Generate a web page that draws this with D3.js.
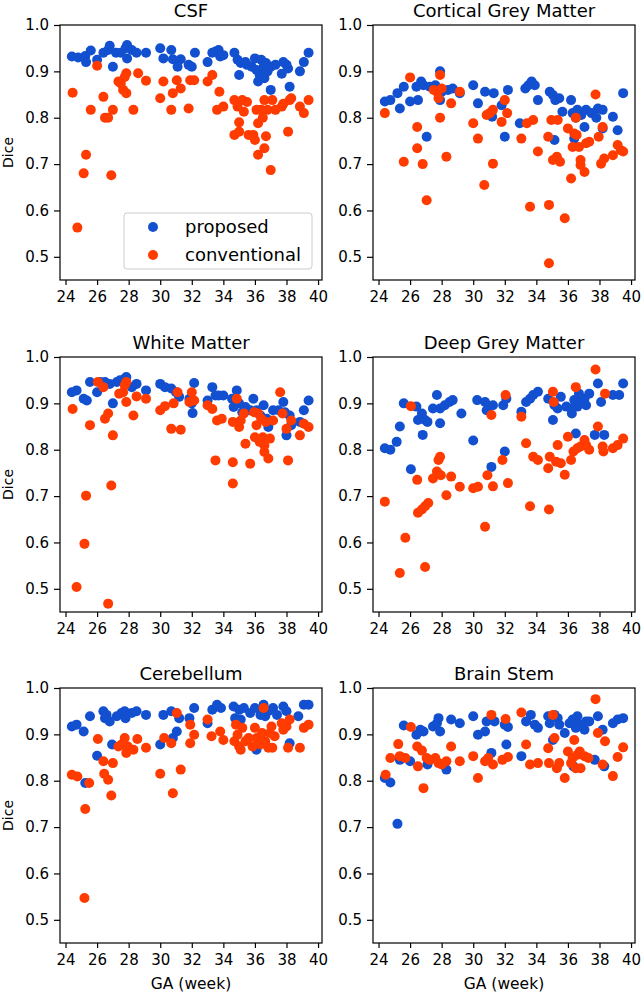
<!DOCTYPE html>
<html>
<head>
<meta charset="utf-8">
<script src="https://d3js.org/d3.v7.min.js"></script>
<style>
  body { margin: 0; background: #fff; }
  text { font-family: "DejaVu Sans", sans-serif; fill: #000; }
</style>
</head>
<body>
<script>

// tick values
var xTicks = [24, 26, 28, 30, 32, 34, 36, 38, 40];
var yTicks = [0.5, 0.6, 0.7, 0.8, 0.9, 1.0];
var seriesNames = ["proposed", "conventional"];
var titles = ["CSF", "Cortical Grey Matter", "White Matter", "Deep Grey Matter", "Cerebellum", "Brain Stem"];

// [GA week, Dice]
var csfProposed = [[24.4,0.932],[24.8,0.93],[25.25,0.933],[25.3,0.92],[25.6,0.945],[26.0,0.925],[26.4,0.94],[26.7,0.946],[26.8,0.955],[27.0,0.91],[27.2,0.94],[27.5,0.94],[27.8,0.95],[27.9,0.957],[27.9,0.928],[28.2,0.946],[28.5,0.94],[29.1,0.94],[30.0,0.95],[30.2,0.928],[30.7,0.946],[30.8,0.926],[31.1,0.91],[31.3,0.926],[31.8,0.914],[32.0,0.91],[32.2,0.94],[33.0,0.92],[33.3,0.94],[33.5,0.943],[33.7,0.946],[33.8,0.932],[34.0,0.935],[34.7,0.94],[34.9,0.925],[35.0,0.892],[35.1,0.918],[35.4,0.92],[35.5,0.914],[35.8,0.91],[36.0,0.928],[36.1,0.903],[36.2,0.878],[36.3,0.892],[36.4,0.925],[36.55,0.91],[36.6,0.885],[36.7,0.918],[36.8,0.9],[37.0,0.86],[37.0,0.91],[37.3,0.914],[37.7,0.895],[37.8,0.92],[38.0,0.914],[38.1,0.906],[38.2,0.867],[38.85,0.9],[39.1,0.92],[39.4,0.94]];
var csfConventional = [[24.45,0.854],[24.75,0.563],[25.15,0.68],[25.3,0.72],[25.6,0.817],[26.0,0.912],[26.4,0.845],[26.5,0.8],[26.7,0.8],[26.9,0.676],[27.0,0.817],[27.35,0.878],[27.5,0.874],[27.65,0.86],[27.75,0.888],[27.85,0.853],[27.85,0.896],[28.3,0.817],[28.6,0.896],[29.1,0.88],[30.0,0.842],[30.2,0.878],[30.7,0.817],[30.8,0.853],[31.05,0.881],[31.3,0.863],[31.8,0.82],[31.9,0.881],[32.15,0.881],[33.0,0.878],[33.3,0.892],[33.6,0.817],[33.75,0.856],[34.0,0.824],[34.7,0.838],[34.7,0.763],[34.9,0.824],[35.0,0.79],[35.0,0.77],[35.2,0.838],[35.3,0.813],[35.5,0.834],[35.6,0.763],[35.9,0.763],[36.0,0.752],[36.1,0.817],[36.2,0.788],[36.2,0.72],[36.4,0.817],[36.5,0.8],[36.6,0.838],[36.6,0.734],[36.7,0.76],[36.8,0.817],[37.0,0.687],[37.1,0.838],[37.3,0.817],[37.7,0.824],[37.8,0.83],[38.1,0.77],[38.2,0.838],[38.3,0.842],[38.85,0.824],[39.1,0.81],[39.4,0.838]];

var cgmProposed = [[24.4,0.835],[24.75,0.838],[25.2,0.853],[25.35,0.82],[25.6,0.867],[26.0,0.835],[26.4,0.867],[26.5,0.838],[26.7,0.878],[26.85,0.87],[27.05,0.759],[27.25,0.867],[27.6,0.87],[27.9,0.9],[27.9,0.838],[28.0,0.856],[28.4,0.86],[28.7,0.863],[29.15,0.853],[30.0,0.87],[30.3,0.831],[30.75,0.856],[31.3,0.853],[31.2,0.802],[31.8,0.827],[32.0,0.759],[32.2,0.86],[32.95,0.788],[33.3,0.863],[33.5,0.87],[33.7,0.878],[33.9,0.87],[34.1,0.838],[34.85,0.856],[35.05,0.849],[35.15,0.752],[35.2,0.838],[35.45,0.842],[35.65,0.813],[36.2,0.838],[36.3,0.81],[36.4,0.755],[36.5,0.8],[36.6,0.817],[36.85,0.806],[37.05,0.78],[37.15,0.817],[37.5,0.81],[37.8,0.8],[37.9,0.82],[38.2,0.817],[38.2,0.777],[38.85,0.802],[39.15,0.773],[39.5,0.853]];
var cgmConventional = [[24.4,0.81],[25.6,0.705],[26.0,0.887],[26.45,0.78],[26.45,0.734],[26.8,0.7],[27.05,0.622],[27.5,0.86],[27.7,0.856],[27.8,0.842],[27.9,0.892],[27.9,0.8],[28.0,0.863],[28.3,0.716],[28.6,0.831],[29.15,0.856],[30.0,0.788],[30.3,0.755],[30.7,0.655],[30.85,0.806],[31.05,0.81],[31.25,0.817],[31.25,0.701],[31.8,0.791],[32.0,0.838],[32.15,0.81],[33.05,0.755],[33.4,0.788],[33.6,0.608],[33.8,0.795],[34.1,0.727],[34.75,0.759],[34.8,0.612],[34.8,0.486],[34.95,0.795],[35.05,0.709],[35.3,0.716],[35.35,0.795],[35.5,0.705],[35.8,0.583],[36.0,0.777],[36.2,0.669],[36.3,0.737],[36.4,0.766],[36.5,0.8],[36.55,0.763],[36.7,0.737],[36.8,0.709],[36.8,0.698],[37.05,0.683],[37.15,0.745],[37.35,0.748],[37.75,0.85],[37.95,0.759],[38.1,0.701],[38.2,0.78],[38.3,0.712],[38.85,0.719],[39.15,0.741],[39.35,0.73],[39.5,0.727]];

var wmProposed = [[24.4,0.924],[24.7,0.928],[25.15,0.91],[25.35,0.906],[25.55,0.946],[26.0,0.924],[26.2,0.946],[26.5,0.946],[26.8,0.942],[27.0,0.9],[27.25,0.946],[27.45,0.95],[27.75,0.953],[27.85,0.957],[28.2,0.935],[28.5,0.942],[29.1,0.928],[30.0,0.942],[30.3,0.935],[30.7,0.932],[31.0,0.924],[31.2,0.914],[31.85,0.91],[32.0,0.9],[32.05,0.879],[32.15,0.944],[33.0,0.906],[33.3,0.935],[33.5,0.917],[33.7,0.917],[34.0,0.917],[34.55,0.91],[34.65,0.892],[34.85,0.928],[35.0,0.9],[35.2,0.881],[35.4,0.892],[35.7,0.885],[35.9,0.91],[36.1,0.885],[36.35,0.874],[36.55,0.896],[36.75,0.867],[36.85,0.849],[37.15,0.885],[37.5,0.885],[37.8,0.903],[37.9,0.881],[38.0,0.831],[38.2,0.874],[38.3,0.853],[38.85,0.86],[39.1,0.885],[39.4,0.906]];
var wmConventional = [[24.45,0.888],[24.7,0.504],[25.2,0.597],[25.3,0.701],[25.55,0.853],[26.05,0.946],[26.4,0.935],[26.5,0.867],[26.7,0.878],[26.7,0.468],[26.9,0.723],[27.0,0.831],[27.4,0.921],[27.65,0.924],[27.75,0.939],[27.85,0.946],[27.85,0.903],[28.3,0.874],[28.5,0.915],[29.1,0.91],[30.0,0.885],[30.3,0.894],[30.7,0.845],[30.85,0.9],[31.1,0.924],[31.3,0.843],[31.85,0.903],[32.0,0.924],[32.15,0.906],[33.0,0.896],[33.3,0.888],[33.5,0.777],[33.6,0.863],[33.9,0.867],[34.6,0.86],[34.6,0.773],[34.6,0.727],[34.85,0.91],[35.0,0.849],[35.1,0.863],[35.3,0.878],[35.4,0.813],[35.7,0.77],[35.95,0.881],[36.0,0.827],[36.1,0.853],[36.2,0.878],[36.3,0.817],[36.4,0.867],[36.5,0.827],[36.6,0.809],[36.6,0.795],[36.7,0.86],[36.85,0.781],[36.95,0.824],[37.15,0.863],[37.6,0.924],[37.75,0.878],[38.0,0.845],[38.1,0.777],[38.3,0.863],[38.85,0.831],[39.1,0.856],[39.4,0.849]];

var dgmProposed = [[24.4,0.803],[24.75,0.8],[25.15,0.817],[25.35,0.85],[25.6,0.9],[26.05,0.758],[26.4,0.893],[26.5,0.864],[26.75,0.878],[26.8,0.832],[26.95,0.864],[27.1,0.86],[27.45,0.889],[27.7,0.918],[27.9,0.857],[27.9,0.889],[28.2,0.896],[28.5,0.903],[28.7,0.907],[29.25,0.878],[30.0,0.82],[30.25,0.907],[30.75,0.903],[30.85,0.885],[31.25,0.896],[31.15,0.763],[31.9,0.896],[32.0,0.796],[32.1,0.91],[33.05,0.882],[33.35,0.903],[33.6,0.91],[33.8,0.918],[34.1,0.925],[34.75,0.91],[35.05,0.864],[35.15,0.896],[35.35,0.889],[35.55,0.914],[35.9,0.893],[36.2,0.889],[36.25,0.878],[36.4,0.907],[36.5,0.835],[36.6,0.893],[36.7,0.921],[36.8,0.903],[37.05,0.91],[37.15,0.896],[37.35,0.921],[37.7,0.832],[37.9,0.943],[38.1,0.903],[38.3,0.832],[38.85,0.918],[39.25,0.918],[39.5,0.943]];
var dgmConventional = [[24.4,0.688],[25.7,0.61],[25.35,0.534],[26.05,0.894],[26.45,0.735],[26.5,0.664],[26.75,0.671],[26.95,0.678],[27.15,0.685],[26.95,0.547],[27.45,0.738],[27.7,0.753],[27.8,0.778],[27.9,0.785],[27.95,0.745],[28.3,0.702],[28.6,0.742],[29.15,0.72],[30.0,0.717],[30.3,0.72],[30.75,0.634],[30.9,0.745],[31.15,0.875],[31.25,0.721],[31.85,0.778],[32.05,0.918],[32.2,0.728],[33.05,0.871],[33.35,0.814],[33.6,0.678],[33.8,0.785],[34.1,0.778],[34.75,0.76],[34.8,0.671],[34.85,0.785],[35.05,0.925],[35.1,0.903],[35.25,0.774],[35.35,0.81],[35.55,0.771],[35.8,0.746],[36.0,0.828],[36.2,0.778],[36.35,0.796],[36.5,0.935],[36.6,0.803],[36.8,0.807],[37.05,0.821],[37.15,0.81],[37.35,0.8],[37.75,0.973],[37.9,0.85],[38.2,0.807],[38.25,0.796],[38.35,0.921],[38.85,0.803],[39.15,0.81],[39.5,0.824]];

var cbProposed = [[24.4,0.917],[24.7,0.921],[25.15,0.906],[25.25,0.795],[25.55,0.939],[26.0,0.854],[26.4,0.95],[26.5,0.935],[26.6,0.942],[26.8,0.928],[26.95,0.878],[27.25,0.939],[27.55,0.946],[27.75,0.95],[27.8,0.935],[28.2,0.946],[28.5,0.95],[29.1,0.942],[30.0,0.878],[30.2,0.942],[30.7,0.95],[30.8,0.892],[31.05,0.906],[31.2,0.935],[31.85,0.935],[32.15,0.957],[33.0,0.924],[33.3,0.953],[33.6,0.964],[33.85,0.957],[34.65,0.96],[34.75,0.935],[35.0,0.953],[35.1,0.932],[35.3,0.957],[35.7,0.946],[36.0,0.957],[36.1,0.867],[36.35,0.942],[36.55,0.964],[36.65,0.939],[36.85,0.95],[37.15,0.957],[37.4,0.942],[37.8,0.96],[38.0,0.95],[38.2,0.881],[38.75,0.939],[39.1,0.964],[39.4,0.964]];
var cbConventional = [[24.4,0.813],[24.75,0.809],[25.25,0.739],[25.2,0.547],[25.5,0.795],[26.05,0.89],[26.4,0.842],[26.45,0.815],[26.7,0.802],[26.9,0.768],[27.0,0.838],[27.35,0.874],[27.55,0.878],[27.75,0.892],[27.85,0.86],[27.95,0.874],[28.3,0.867],[28.55,0.89],[29.1,0.871],[30.0,0.815],[30.25,0.892],[30.7,0.881],[30.8,0.773],[31.05,0.946],[31.3,0.824],[31.9,0.921],[31.9,0.881],[32.15,0.899],[33.0,0.932],[33.25,0.896],[33.8,0.906],[34.0,0.888],[34.7,0.885],[34.8,0.921],[34.9,0.899],[35.0,0.874],[35.1,0.867],[35.2,0.914],[35.4,0.885],[35.6,0.892],[35.85,0.874],[36.0,0.914],[36.1,0.892],[36.35,0.878],[36.45,0.903],[36.55,0.957],[36.65,0.885],[36.85,0.871],[36.95,0.903],[37.05,0.917],[37.1,0.871],[37.25,0.896],[37.7,0.924],[37.8,0.91],[38.0,0.917],[38.1,0.871],[38.2,0.932],[38.85,0.871],[39.1,0.914],[39.4,0.921]];

var bsProposed = [[24.4,0.806],[24.75,0.796],[25.2,0.707],[25.35,0.845],[25.6,0.919],[26.0,0.842],[26.4,0.899],[26.65,0.91],[26.85,0.906],[27.1,0.835],[27.45,0.917],[27.7,0.924],[27.8,0.935],[27.9,0.906],[28.3,0.824],[28.6,0.932],[29.15,0.924],[30.0,0.939],[30.3,0.899],[30.75,0.906],[30.85,0.928],[31.15,0.86],[31.35,0.928],[32.0,0.921],[32.1,0.878],[32.2,0.916],[33.05,0.853],[33.35,0.928],[33.65,0.942],[33.9,0.921],[34.1,0.914],[34.75,0.939],[34.85,0.924],[35.05,0.888],[35.15,0.942],[35.35,0.935],[35.45,0.921],[35.8,0.903],[36.1,0.924],[36.3,0.932],[36.35,0.831],[36.5,0.914],[36.6,0.939],[36.8,0.921],[37.05,0.91],[37.15,0.928],[37.35,0.928],[37.7,0.845],[37.9,0.939],[38.2,0.91],[38.3,0.831],[38.85,0.924],[39.15,0.932],[39.5,0.935]];
var bsConventional = [[24.45,0.813],[24.75,0.849],[25.25,0.879],[25.35,0.853],[25.7,0.849],[26.05,0.916],[26.45,0.874],[26.5,0.831],[26.75,0.865],[26.85,0.784],[27.05,0.849],[27.25,0.845],[27.6,0.849],[27.8,0.838],[28.0,0.835],[28.3,0.842],[28.6,0.874],[29.15,0.842],[30.0,0.853],[30.3,0.806],[30.75,0.842],[30.95,0.849],[31.15,0.942],[31.25,0.835],[31.85,0.845],[32.05,0.933],[32.2,0.851],[33.05,0.947],[33.35,0.878],[33.6,0.835],[34.1,0.838],[34.75,0.87],[34.8,0.838],[35.05,0.942],[35.15,0.892],[35.3,0.827],[35.45,0.838],[35.8,0.806],[36.0,0.863],[36.2,0.838],[36.3,0.849],[36.4,0.888],[36.5,0.827],[36.6,0.856],[36.75,0.863],[36.8,0.827],[37.05,0.853],[37.3,0.849],[37.75,0.976],[37.9,0.903],[38.2,0.835],[38.35,0.885],[38.85,0.81],[39.15,0.851],[39.5,0.872]];

var proposedSets = [csfProposed, cgmProposed, wmProposed, dgmProposed, cbProposed, bsProposed];
var conventionalSets = [csfConventional, cgmConventional, wmConventional, dgmConventional, cbConventional, bsConventional];

var width = 643,
    height = 996;

var colors = ["#1250d0", "#ff3b00"];

var colLeft = [60, 373],
    rowTop = [25, 357, 688],
    pw = 262,
    ph = 255;

var svg = d3.select("body").append("svg")
    .attr("width", width)
    .attr("height", height);

var x = d3.scaleLinear().domain([23.65, 40.25]).range([0, pw]);
var y = d3.scaleLinear().domain([0.45, 1.0]).range([ph, 0]);

titles.forEach(function(title, i) {
    var col = i % 2, row = Math.floor(i / 2);
    var g = svg.append("g")
        .attr("transform", "translate(" + colLeft[col] + "," + rowTop[row] + ")");

    var xAxis = g.append("g")
        .attr("transform", "translate(0," + ph + ")")
        .call(d3.axisBottom(x).tickValues(xTicks).tickSize(5).tickPadding(6).tickFormat(d3.format("d")));
    var yAxis = g.append("g")
        .call(d3.axisLeft(y).tickValues(yTicks).tickSize(6).tickPadding(5).tickFormat(d3.format(".1f")));

    [xAxis, yAxis].forEach(function(a) {
        a.select(".domain").remove();
        a.selectAll("line").attr("stroke", "#000").attr("stroke-width", 1.2);
        a.selectAll("text").style("font-size", "15px").attr("fill", "#000");
    });

    // frame
    g.append("rect")
        .attr("width", pw)
        .attr("height", ph)
        .attr("fill", "none")
        .attr("stroke", "#000")
        .attr("stroke-width", 1.2);

    var sets = [proposedSets[i], conventionalSets[i]];
    sets.forEach(function(pts, s) {
        g.append("g").selectAll("circle")
            .data(pts)
            .enter()
            .append("circle")
            .attr("cx", function(d) { return x(d[0]); })
            .attr("cy", function(d) { return y(d[1]); })
            .attr("r", 5)
            .attr("fill", colors[s]);
    });

    g.append("text")
        .attr("x", pw / 2)
        .attr("y", -8)
        .attr("text-anchor", "middle")
        .style("font-size", "18px")
        .text(title);

    if (col == 0) {
        g.append("text")
            .attr("transform", "translate(-47," + (ph / 2) + ") rotate(-90)")
            .attr("text-anchor", "middle")
            .style("font-size", "14px")
            .text("Dice");
    }
    if (row == 2) {
        g.append("text")
            .attr("x", pw / 2)
            .attr("y", ph + 46)
            .attr("text-anchor", "middle")
            .style("font-size", "15.5px")
            .text("GA (week)");
    }

    // legend only in the first panel
    if (i == 0) {
        var lg = g.append("g").attr("transform", "translate(64,188)");
        lg.append("rect")
            .attr("width", 188)
            .attr("height", 56)
            .attr("rx", 3)
            .attr("fill", "#fff")
            .attr("fill-opacity", 0.8)
            .attr("stroke", "#ccc");
        seriesNames.forEach(function(name, s) {
            lg.append("circle")
                .attr("cx", 29)
                .attr("cy", 14 + s * 28)
                .attr("r", 5)
                .attr("fill", colors[s]);
            lg.append("text")
                .attr("x", 61)
                .attr("y", 14 + s * 28)
                .attr("dy", "0.35em")
                .style("font-size", "18px")
                .text(name);
        });
    }
});

</script>
</body>
</html>
